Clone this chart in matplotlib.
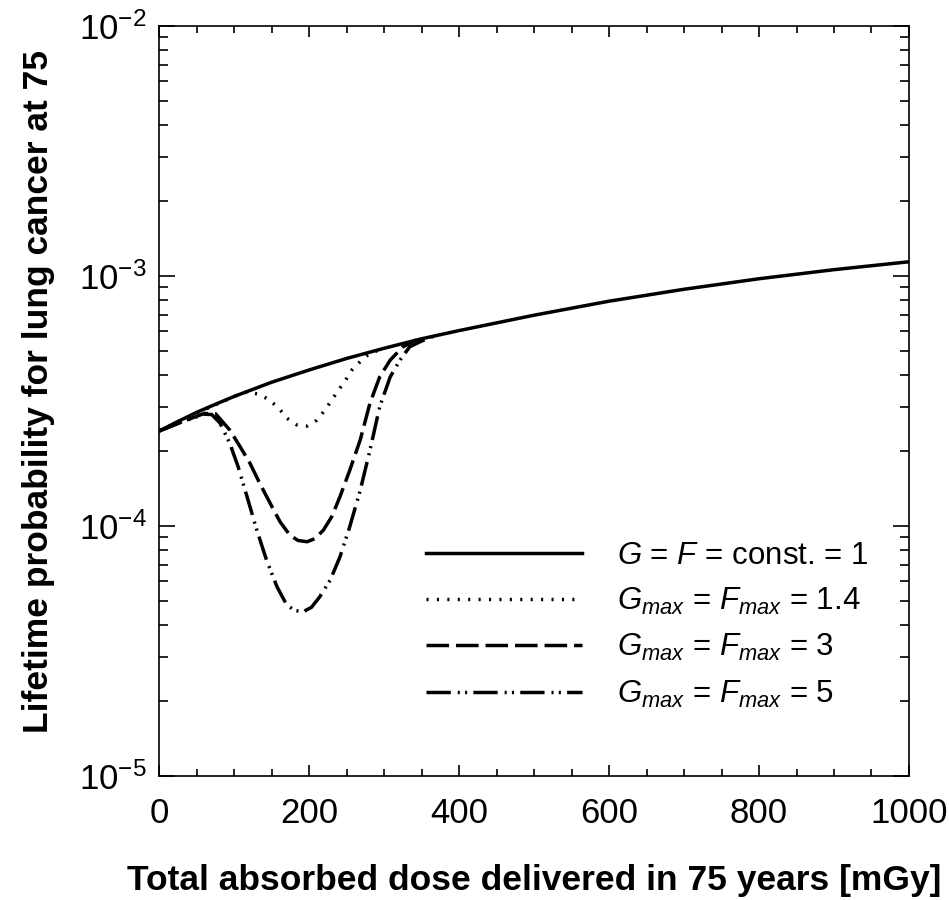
"""Lifetime lung cancer probability vs total absorbed dose for several G/F factors."""
import matplotlib

matplotlib.use("Agg")
import matplotlib.pyplot as plt
from matplotlib.ticker import FixedLocator, LogLocator, MultipleLocator, NullFormatter

# --- data ---
# G = F = const. = 1
dose_const = [0, 25, 50, 75, 100, 150, 200, 250, 300, 350, 400, 500, 600, 700, 800, 900, 1000]
prob_const = [2.40e-4, 2.62e-4, 2.85e-4, 3.07e-4, 3.30e-4, 3.76e-4, 4.21e-4, 4.68e-4, 5.14e-4,
              5.61e-4, 6.05e-4, 6.97e-4, 7.93e-4, 8.85e-4, 9.75e-4, 1.06e-3, 1.14e-3]

# Gmax = Fmax = 1.4
dose_g14 = [0, 50, 100, 117, 132, 145, 159, 170, 183, 197, 210, 221, 230, 239, 248, 257, 270, 281, 300]
prob_g14 = [2.40e-4, 2.83e-4, 3.30e-4, 3.44e-4, 3.37e-4, 3.22e-4, 2.97e-4, 2.70e-4, 2.54e-4, 2.51e-4,
            2.65e-4, 2.91e-4, 3.19e-4, 3.50e-4, 3.81e-4, 4.21e-4, 4.61e-4, 4.91e-4, 5.14e-4]

# Gmax = Fmax = 3
dose_g3 = [0, 30, 60, 75, 94, 108, 121, 134, 148, 161, 174, 185, 197, 208, 219, 230, 241, 254, 268,
           281, 294, 308, 325, 343]
prob_g3 = [2.40e-4, 2.61e-4, 2.82e-4, 2.81e-4, 2.42e-4, 2.07e-4, 1.78e-4, 1.48e-4, 1.23e-4, 1.04e-4,
           9.20e-5, 8.75e-5, 8.65e-5, 8.91e-5, 9.64e-5, 1.09e-4, 1.31e-4, 1.67e-4, 2.21e-4, 3.10e-4,
           3.95e-4, 4.61e-4, 5.21e-4, 5.55e-4]

# Gmax = Fmax = 5
dose_g5 = [0, 30, 60, 70, 81, 94, 105, 117, 130, 143, 157, 170, 181, 192, 203, 214, 228, 241, 254,
           268, 281, 294, 308, 321, 334, 348, 365]
prob_g5 = [2.40e-4, 2.61e-4, 2.80e-4, 2.79e-4, 2.58e-4, 2.14e-4, 1.73e-4, 1.31e-4, 9.64e-5, 7.31e-5,
           5.71e-5, 4.83e-5, 4.59e-5, 4.54e-5, 4.73e-5, 5.21e-5, 6.08e-5, 7.53e-5, 9.93e-5, 1.39e-4,
           2.01e-4, 3.00e-4, 3.95e-4, 4.61e-4, 5.21e-4, 5.46e-4, 5.73e-4]

series_labels = [
    r"$G$ = $F$ = const. = 1",
    r"$G_{max}$ = $F_{max}$ = 1.4",
    r"$G_{max}$ = $F_{max}$ = 3",
    r"$G_{max}$ = $F_{max}$ = 5",
]

xticks = [0, 200, 400, 600, 800, 1000]
yticks = [1e-5, 1e-4, 1e-3, 1e-2]
ytick_labels = [r"10$^{-5}$", r"10$^{-4}$", r"10$^{-3}$", r"10$^{-2}$"]

XLABEL = "Total absorbed dose delivered in 75 years [mGy]"
YLABEL = "Lifetime probability for lung cancer at 75"


def setup_fonts() -> None:
    plt.rcParams["font.family"] = ["Liberation Sans", "DejaVu Sans"]
    plt.rcParams["mathtext.fontset"] = "custom"
    plt.rcParams["mathtext.rm"] = "Liberation Sans"
    plt.rcParams["mathtext.it"] = "Liberation Sans:italic"
    plt.rcParams["mathtext.bf"] = "Liberation Sans:bold"
    plt.rcParams["axes.linewidth"] = 1.2


def main() -> None:
    setup_fonts()
    fig = plt.figure(figsize=(9.49, 9.0), dpi=100)
    ax = fig.add_axes([0.1679, 0.1378, 0.7899, 0.8333])

    lw = 2.5
    ax.plot(dose_const, prob_const, color="black", lw=lw, label=series_labels[0])
    ax.plot(dose_g14, prob_g14, color="black", lw=lw, dashes=(0.6, 2.4), label=series_labels[1])
    ax.plot(dose_g3, prob_g3, color="black", lw=lw, dashes=(6.5, 2.0), label=series_labels[2])
    ax.plot(dose_g5, prob_g5, color="black", lw=lw, dashes=(7, 2.0, 0.6, 1.5, 0.6, 1.8),
            label=series_labels[3])

    ax.set_yscale("log")
    ax.set_xlim(0, 1000)
    ax.set_ylim(1e-5, 1e-2)

    ax.xaxis.set_major_locator(FixedLocator(xticks))
    ax.xaxis.set_minor_locator(MultipleLocator(50))
    ax.set_xticklabels([str(v) for v in xticks])
    ax.yaxis.set_major_locator(FixedLocator(yticks))
    ax.set_yticklabels(ytick_labels)
    ax.yaxis.set_minor_locator(LogLocator(base=10, subs=range(2, 10)))
    ax.yaxis.set_minor_formatter(NullFormatter())

    ax.tick_params(axis="both", which="both", direction="in", top=True, right=True,
                   width=1.2, labelsize=25)
    ax.tick_params(axis="x", which="major", length=8, pad=15)
    ax.tick_params(axis="x", which="minor", length=4.8)
    ax.tick_params(axis="y", which="major", length=11.3, pad=9)
    ax.tick_params(axis="y", which="minor", length=6.5)

    ax.set_xlabel(XLABEL, fontsize=25.5, fontweight="bold")
    ax.xaxis.set_label_coords(0.5, -0.118)
    ax.set_ylabel(YLABEL, fontsize=25.5, fontweight="bold")
    ax.yaxis.set_label_coords(-0.139, 0.512)

    ax.legend(loc="upper left", bbox_to_anchor=(0.356, 0.313), frameon=False, fontsize=22.5,
              handlelength=5.0, handletextpad=1.1, labelspacing=0.48,
              borderpad=0, borderaxespad=0)

    fig.savefig("out.png", dpi=100)
    plt.close(fig)


if __name__ == "__main__":
    main()
